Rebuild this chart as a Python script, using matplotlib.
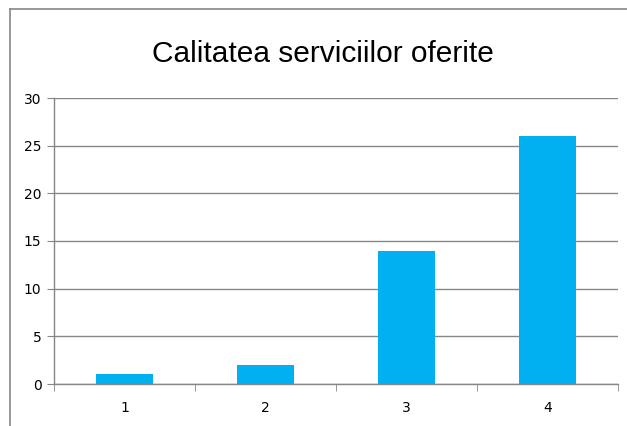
import matplotlib.pyplot as plt
from matplotlib.lines import Line2D
import numpy as np

categories = ["1", "2", "3", "4"]
values = [1, 2, 14, 26]
y_ticks = [0, 5, 10, 15, 20, 25, 30]

W, H = 627, 426
fig = plt.figure(figsize=(W / 100, H / 100), dpi=100)
ax = fig.add_axes([54 / W, 1 - 384 / H, 564 / W, 286 / H])

gray = "#868686"
x = np.arange(len(categories))
ax.bar(x, values, width=0.4, color="#00B0F0", zorder=3)

ax.set_xlim(-0.5, len(categories) - 0.5)
ax.set_ylim(0, 30)
ax.set_yticks(y_ticks)
ax.set_xticks(x)
ax.set_xticklabels(categories)
ax.set_xticks(np.arange(len(categories) + 1) - 0.5, minor=True)

ax.grid(axis="y", color=gray, linewidth=1, zorder=0)
for s in ["top", "right"]:
    ax.spines[s].set_visible(False)
for s in ["left", "bottom"]:
    ax.spines[s].set_color(gray)
    ax.spines[s].set_linewidth(1)

ax.tick_params(axis="y", length=5, color=gray, labelsize=10, pad=4)
ax.tick_params(axis="x", which="major", length=0, labelsize=10, pad=12)
ax.tick_params(axis="x", which="minor", length=5, color=gray)

fig.text(323 / W, 1 - 62 / H, "Calitatea serviciilor oferite", fontsize=21.5,
         family=["Liberation Sans", "DejaVu Sans"], ha="center", va="baseline")

# chart border (cropped at right and bottom)
fig.add_artist(Line2D([10 / W, 10 / W], [0, 1 - 9 / H], color=gray, linewidth=1.2))
fig.add_artist(Line2D([10 / W, 1], [1 - 9 / H, 1 - 9 / H], color=gray, linewidth=1.2))

fig.savefig("out.png", dpi=100)
